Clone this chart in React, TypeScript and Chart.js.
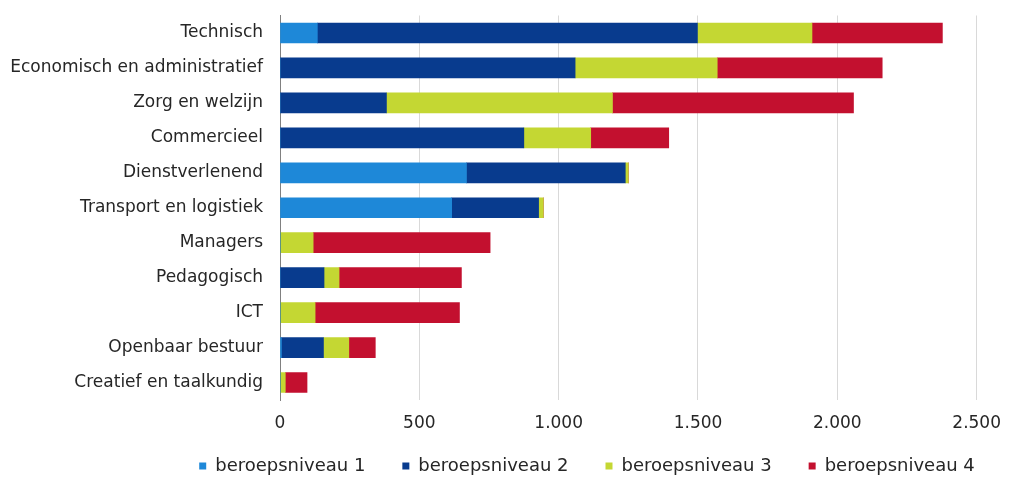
import React, { useEffect, useRef } from "react";
import { Chart, registerables } from "chart.js";

Chart.register(...registerables);

const categories = [
  "Technisch",
  "Economisch en administratief",
  "Zorg en welzijn",
  "Commercieel",
  "Dienstverlenend",
  "Transport en logistiek",
  "Managers",
  "Pedagogisch",
  "ICT",
  "Openbaar bestuur",
  "Creatief en taalkundig",
];

const niveau1 = [134, 0, 0, 0, 669, 616, 0, 0, 0, 5, 0];
const niveau2 = [1364, 1059, 382, 875, 570, 312, 0, 158, 0, 151, 0];
const niveau3 = [411, 510, 811, 240, 11, 17, 119, 54, 126, 91, 19];
const niveau4 = [468, 592, 865, 280, 0, 0, 635, 439, 518, 95, 78];

const seriesNames = ["beroepsniveau 1", "beroepsniveau 2", "beroepsniveau 3", "beroepsniveau 4"];
const seriesColors = ["#1e88d8", "#083b8e", "#c4d733", "#c3102f"];

const xTicks = [0, 500, 1000, 1500, 2000, 2500];

const fmt = (v: number) => String(v).replace(/\B(?=(\d{3})+(?!\d))/g, ".");

const legendShift = {
  id: "legendShift",
  afterLayout(chart: any) {
    const lg = chart.legend;
    if (lg) {
      lg.left += 94;
      lg.right += 94;
      lg.top = 420;
      lg.bottom = chart.height;
      lg.height = lg.bottom - lg.top;
    }
  },
};

export default function App() {
  const ref = useRef<HTMLCanvasElement | null>(null);
  useEffect(() => {
    if (!ref.current) return;
    const family = "'DejaVu Sans', Verdana, sans-serif";
    const font = { family, size: 17 };
    const values = [niveau1, niveau2, niveau3, niveau4];
    const chart = new Chart(ref.current, {
      type: "bar",
      data: {
        labels: categories,
        datasets: values.map((d, i) => ({
          label: seriesNames[i],
          data: d,
          backgroundColor: seriesColors[i],
          borderWidth: 0,
          barThickness: 20,
        })),
      },
      options: {
        indexAxis: "y",
        animation: false,
        responsive: false,
        maintainAspectRatio: false,
        layout: { padding: { left: 0, right: 28, top: 15.5, bottom: 0 } },
        scales: {
          x: {
            stacked: true,
            min: 0,
            max: 2500,
            afterBuildTicks: (s: any) => {
              s.ticks = xTicks.map((v) => ({ value: v }));
            },
            afterFit: (s: any) => {
              s.height = 35;
            },
            grid: { color: "#d9d9d9", lineWidth: 1, drawTicks: false },
            border: { display: false },
            ticks: {
              padding: 13,
              color: "#262626",
              font,
              callback: (v: any) => fmt(Number(v)),
            },
          },
          y: {
            stacked: true,
            afterFit: (s: any) => {
              s.width = 280;
              s.paddingTop = 0;
              s.paddingBottom = 0;
            },
            grid: { display: false },
            border: { display: true, color: "#808080", width: 1 },
            ticks: { padding: 9, color: "#262626", font },
          },
        },
        plugins: {
          legend: {
            position: "bottom",
            maxHeight: 50,
            labels: {
              boxWidth: 7,
              boxHeight: 7,
              padding: 37,
              color: "#262626",
              font: { family, size: 18 },
            },
          },
          tooltip: { enabled: false },
        },
      },
      plugins: [legendShift],
    });
    return () => chart.destroy();
  }, []);
  return (
    <div style={{ position: "fixed", left: 0, top: 0, width: 1014, height: 485, background: "#fff" }}>
      <canvas ref={ref} width={1014} height={485} style={{ width: 1014, height: 485 }} />
    </div>
  );
}
